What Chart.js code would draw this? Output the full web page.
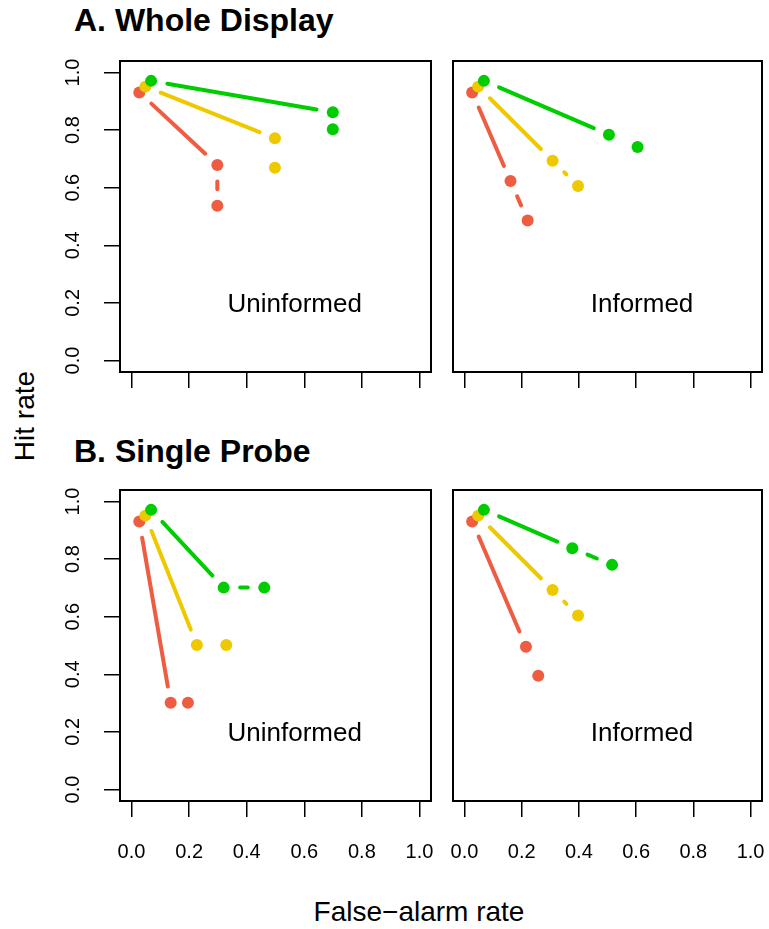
<!DOCTYPE html>
<html>
<head>
<meta charset="utf-8">
<title>Hit rate vs false-alarm rate</title>
<script src="https://cdn.jsdelivr.net/npm/chart.js@4.4.1/dist/chart.umd.min.js"></script>
<style>
  body { margin: 0; background: #fff; width: 769px; height: 929px; position: relative; overflow: hidden;
         font-family: 'Liberation Sans', Arial, Helvetica, sans-serif; color: #000; }
  canvas { position: absolute; }
  .title { position: absolute; font-weight: bold; font-size: 32px; line-height: 32px; white-space: nowrap; }
  .axis-title { position: absolute; font-size: 28px; line-height: 28px; white-space: nowrap; text-align: center; }
</style>
</head>
<body>
<div class="title" style="left:74px; top:4px;">A. Whole Display</div>
<div class="title" style="left:74px; top:435px;">B. Single Probe</div>
<div class="axis-title" style="left:-75px; top:402px; width:200px; transform: rotate(-90deg);">Hit rate</div>
<div class="axis-title" style="left:219px; top:898px; width:400px;">False−alarm rate</div>

<canvas id="wholeUninformed" width="403" height="341" style="left:40px; top:51px;"></canvas>
<canvas id="wholeInformed" width="325" height="341" style="left:443px; top:51px;"></canvas>
<canvas id="probeUninformed" width="403" height="391" style="left:40px; top:480px;"></canvas>
<canvas id="probeInformed" width="325" height="391" style="left:443px; top:480px;"></canvas>

<script>
// axis ticks, same on both axes
const tickValues = [0, 0.2, 0.4, 0.6, 0.8, 1.0];
const tickLabels = ['0.0', '0.2', '0.4', '0.6', '0.8', '1.0'];

// each series: [false-alarm rate, hit rate] for three conditions
const wholeUninformedRed   = [[0.027, 0.931], [0.298, 0.679], [0.298, 0.537]];
const wholeUninformedGold  = [[0.048, 0.951], [0.498, 0.772], [0.498, 0.669]];
const wholeUninformedGreen = [[0.068, 0.971], [0.699, 0.862], [0.699, 0.803]];

const wholeInformedRed   = [[0.027, 0.931], [0.161, 0.623], [0.221, 0.486]];
const wholeInformedGold  = [[0.048, 0.951], [0.308, 0.694], [0.397, 0.606]];
const wholeInformedGreen = [[0.068, 0.971], [0.505, 0.784], [0.605, 0.741]];

const probeUninformedRed   = [[0.027, 0.931], [0.136, 0.301], [0.196, 0.301]];
const probeUninformedGold  = [[0.048, 0.951], [0.227, 0.502], [0.329, 0.502]];
const probeUninformedGreen = [[0.068, 0.971], [0.320, 0.701], [0.461, 0.701]];

const probeInformedRed   = [[0.027, 0.931], [0.215, 0.496], [0.258, 0.395]];
const probeInformedGold  = [[0.048, 0.951], [0.308, 0.693], [0.397, 0.604]];
const probeInformedGreen = [[0.068, 0.971], [0.377, 0.838], [0.516, 0.780]];

const RED = '#EE5C42';
const GOLD = '#EEC900';
const GREEN = '#00CD00';

const GAP = 16.5; // space left between a line end and the point centre

Chart.defaults.font.family = "'Liberation Sans', Arial, Helvetica, sans-serif";
Chart.defaults.color = '#000';

// lines like R's type="b": solid first leg, dashed second leg, gaps at the points
const gapLines = {
    id: 'gapLines',
    beforeDatasetsDraw(chart) {
        const ctx = chart.ctx;
        ctx.save();
        ctx.lineWidth = 4;
        ctx.lineCap = 'round';
        chart.data.datasets.forEach((ds, i) => {
            const pts = chart.getDatasetMeta(i).data;
            ctx.strokeStyle = ds.backgroundColor;
            for (let k = 0; k < pts.length - 1; k++) {
                const a = pts[k], b = pts[k + 1];
                const dx = b.x - a.x, dy = b.y - a.y;
                const len = Math.hypot(dx, dy);
                if (len <= 2 * GAP) continue;
                const ux = dx / len, uy = dy / len;
                ctx.setLineDash(k === 0 ? [] : [16, 16]);
                ctx.beginPath();
                ctx.moveTo(a.x + ux * GAP, a.y + uy * GAP);
                ctx.lineTo(b.x - ux * GAP, b.y - uy * GAP);
                ctx.stroke();
            }
        });
        ctx.restore();
    }
};

// frame around the plot region plus the condition label
const frame = {
    id: 'frame',
    afterDraw(chart, args, opts) {
        const { ctx, chartArea, scales } = chart;
        ctx.save();
        ctx.strokeStyle = '#000';
        ctx.lineWidth = 2;
        ctx.strokeRect(chartArea.left, chartArea.top, chartArea.right - chartArea.left, chartArea.bottom - chartArea.top);
        ctx.fillStyle = '#000';
        ctx.font = "26px 'Liberation Sans', Arial, Helvetica, sans-serif";
        ctx.textAlign = 'right';
        ctx.textBaseline = 'alphabetic';
        ctx.fillText(opts.text, scales.x.getPixelForValue(0.8), scales.y.getPixelForValue(0.2) + 9.3);
        ctx.restore();
    }
};

function setTicks(scale) {
    scale.ticks = tickValues.map(v => ({ value: v }));
}

// fixed axis size and no label overhang, so every panel gets the same square plot region
function fixSize(width, height) {
    return s => {
        if (width !== null) s.width = width;
        if (height !== null) s.height = height;
        s.paddingTop = 0;
        s.paddingBottom = 0;
        s.paddingLeft = 0;
        s.paddingRight = 0;
    };
}

function makePanel(id, series, text, leftCol, bottomRow) {
    const colors = [RED, GOLD, GREEN];
    // green drawn last (on top)
    const datasets = series.map((s, i) => ({
        data: s.map(p => ({ x: p[0], y: p[1] })),
        backgroundColor: colors[i],
        borderWidth: 0,
        pointRadius: 6,
        pointHoverRadius: 6,
        order: 2 - i
    }));

    const tickGrid = { drawOnChartArea: false, drawTicks: true, tickLength: 16, color: '#000', lineWidth: 1.5 };

    new Chart(document.getElementById(id), {
        type: 'scatter',
        data: { datasets: datasets },
        options: {
            responsive: false,
            animation: false,
            events: [],
            layout: { padding: { left: leftCol ? 0 : 10, right: leftCol ? 12 : 4, top: 10, bottom: 0 } },
            plugins: { legend: { display: false }, tooltip: { enabled: false }, frame: { text: text } },
            scales: {
                x: {
                    type: 'linear', min: -0.04, max: 1.04,
                    afterBuildTicks: setTicks,
                    afterFit: fixSize(null, bottomRow ? 70 : 20),
                    grid: tickGrid,
                    border: { display: false },
                    ticks: {
                        display: bottomRow, padding: 23, autoSkip: false, maxRotation: 0,
                        font: { size: 20 }, color: '#000',
                        callback: (v, i) => tickLabels[i]
                    }
                },
                y: leftCol ? {
                    type: 'linear', min: -0.04, max: 1.04,
                    afterBuildTicks: setTicks,
                    afterFit: fixSize(80, null),
                    grid: tickGrid,
                    border: { display: false },
                    ticks: {
                        padding: 17, autoSkip: false, crossAlign: 'center',
                        minRotation: 90, maxRotation: 90,
                        font: { size: 20 }, color: '#000',
                        callback: (v, i) => tickLabels[i]
                    }
                } : { type: 'linear', min: -0.04, max: 1.04, display: false }
            }
        },
        plugins: [gapLines, frame]
    });
}

makePanel('wholeUninformed', [wholeUninformedRed, wholeUninformedGold, wholeUninformedGreen], 'Uninformed', true, false);
makePanel('wholeInformed', [wholeInformedRed, wholeInformedGold, wholeInformedGreen], 'Informed', false, false);
makePanel('probeUninformed', [probeUninformedRed, probeUninformedGold, probeUninformedGreen], 'Uninformed', true, true);
makePanel('probeInformed', [probeInformedRed, probeInformedGold, probeInformedGreen], 'Informed', false, true);
</script>
</body>
</html>
